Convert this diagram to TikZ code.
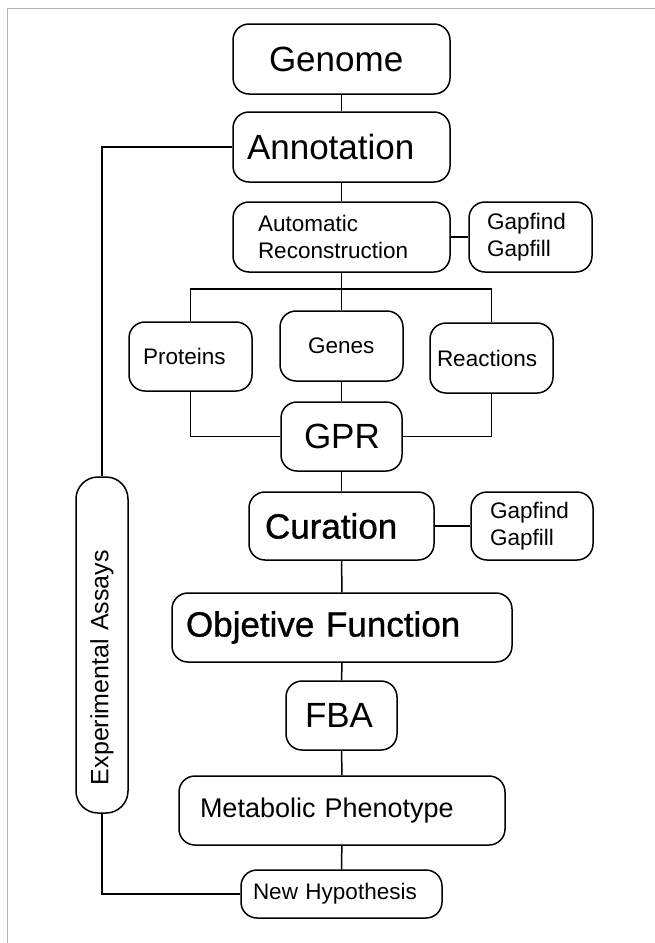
\documentclass[tikz,border=0pt]{standalone}
\usepackage{fontspec}
\setmainfont{Liberation Sans}
\usetikzlibrary{positioning}

\tikzset{
  box/.style={draw, line width=1.5pt, rounded corners=16pt, align=left, inner ysep=0pt},
  link/.style={line width=1.5pt},
  textL/.style={font=\fontsize{35}{42}\selectfont},
  textB/.style={font=\fontsize{35}{42}\selectfont\addfontfeatures{FakeBold=1}},
  textM/.style={font=\fontsize{27}{32}\selectfont},
  textS/.style={font=\fontsize{22.5}{27.5}\selectfont},
}

\begin{document}
\begin{tikzpicture}[x=1pt, y=-1pt]
    \useasboundingbox (0,0) rectangle (655,943);
    % frame of the figure
    \draw[gray!60, line width=1.5pt] (7.5,943) -- (7.5,8.5) -- (655,8.5);

    % main column
    \node[box, textL, text width=145pt, inner xsep=36pt, minimum height=70pt] (genome) at (341.5,59) {Genome};
    \node[box, textL, text width=189pt, inner xsep=14pt, minimum height=70pt] (annot) at (341.5,147) {Annotation};
    \node[box, textS, text width=167pt, inner xsep=25pt, minimum height=70pt] (autorec) at (341.5,237) {Automatic\\Reconstruction};
    \node[box, textS, text width=87pt, inner xsep=18pt, minimum height=70pt] (gapA) at (530.5,237) {Gapfind\\Gapfill};

    % the three parts of a GPR
    \node[box, textS, text width=95pt, inner xsep=14pt, minimum height=69pt] (prot) at (190.5,356.5) {Proteins};
    \node[box, textS, text width=67pt, inner xsep=28pt, minimum height=70pt] (genes) at (341.5,346) {Genes};
    \node[box, textS, text width=109pt, inner xsep=7pt, minimum height=70pt] (react) at (491.5,358) {Reactions};
    \node[box, textL, text width=75pt, inner xsep=23pt, minimum height=69pt] (gpr) at (341.5,436.5) {GPR};

    \node[box, textB, text width=153pt, inner xsep=16pt, minimum height=68pt] (cur) at (341.5,526) {Curation};
    \node[box, textS, text width=84pt, inner xsep=19pt, minimum height=68pt] (gapB) at (532,526) {Gapfind\\Gapfill};
    \node[box, textB, text width=312pt, inner xsep=14pt, minimum height=69pt] (obj) at (342,627.5) {Objetive Function};
    \node[box, textL, text width=73pt, inner xsep=19pt, minimum height=69pt] (fba) at (341.5,715.5) {FBA};
    \node[box, textM, text width=284pt, inner xsep=21pt, minimum height=69pt] (pheno) at (342,810.5) {Metabolic Phenotype};
    \node[box, textS, text width=177pt, inner xsep=12pt, minimum height=48pt] (hypo) at (341.5,894) {New Hypothesis};

    % side box
    \node[box, rounded corners=22pt, rotate=90, font=\fontsize{25}{30}\selectfont, text width=280pt, inner xsep=28pt, minimum height=52pt] (assays) at (102,645) {Experimental Assays};

    % connectors
    \coordinate (branch) at (341.5,289);
    \draw[link] (genome) -- (annot);
    \draw[link] (annot) -- (autorec);
    \draw[link] (autorec) -- (gapA);
    \draw[link] (autorec) -- (genes);
    \draw[link] (prot.north) |- (branch) -| (react.north);
    \draw[link] (genes) -- (gpr);
    \draw[link] (prot.south) |- (gpr.west);
    \draw[link] (react.south) |- (gpr.east);
    \draw[link] (gpr) -- (cur);
    \draw[link] (cur) -- (gapB);
    \draw[link] (cur) -- (obj);
    \draw[link] (obj) -- (fba);
    \draw[link] (fba) -- (pheno);
    \draw[link] (pheno) -- (hypo);
    \draw[link] (annot.west) -| (assays.east);
    \draw[link] (assays.west) |- (hypo.west);
\end{tikzpicture}
\end{document}
